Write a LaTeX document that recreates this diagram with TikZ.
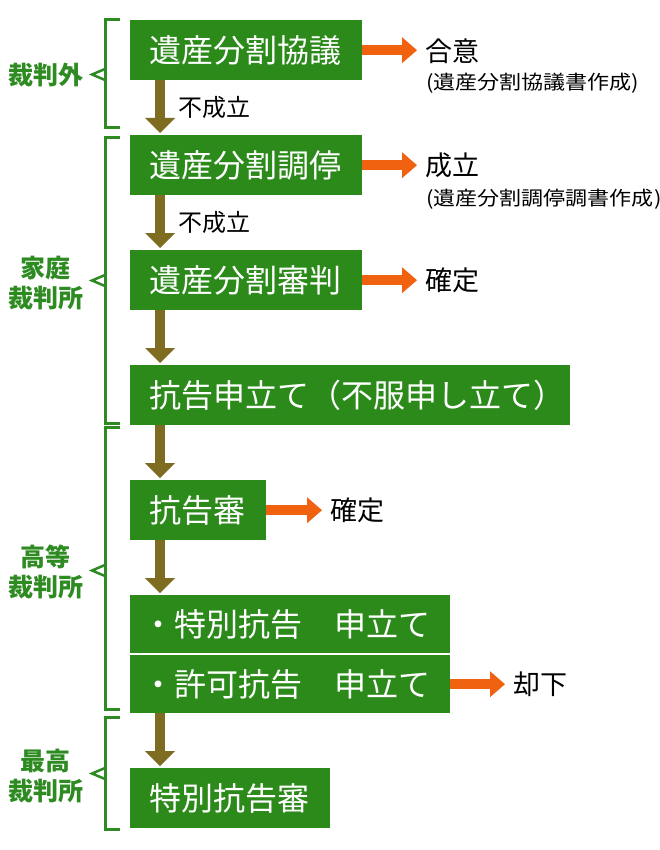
\documentclass[tikz,border=0pt]{standalone}
\usepackage{fontspec}
\usepackage{graphicx}
\usetikzlibrary{arrows.meta,calc}
\newfontfamily\jp{Noto Sans CJK JP}
\definecolor{boxgreen}{HTML}{2B8A1A}
\definecolor{olivec}{HTML}{7E6D20}
\definecolor{orangec}{HTML}{F0620F}
\definecolor{brkgreen}{HTML}{2E8B22}
\tikzset{
  gbox/.style={fill=boxgreen, text=white, font=\jp\fontsize{32}{32}\selectfont,
    minimum height=60pt, inner xsep=19pt, inner ysep=0pt, align=left, anchor=north west},
  varr/.style={draw=olivec, line width=10pt, shorten >=2pt,
    -{Triangle[length=15pt,width=30pt,line width=0pt]}},
  oarr/.style={draw=orangec, line width=10pt, shorten >=8pt,
    -{Triangle[length=15pt,width=26pt,line width=0pt]}},
  btext/.style={font=\jp\fontsize{27}{27}\selectfont, anchor=west, inner sep=0pt},
  ntext/.style={font=\jp\fontsize{24}{24}\selectfont, anchor=west, inner sep=0pt},
  stext/.style={font=\jp\fontsize{19.5}{19.5}\selectfont, anchor=west, inner sep=0pt},
  lbl/.style={font=\jp\bfseries\fontsize{25}{30}\selectfont, text=brkgreen, align=center, inner sep=0pt},
  brk/.style={draw=brkgreen, line width=3pt, line join=miter},
  notch/.style={draw=brkgreen, line width=2.5pt, line join=miter},
}
\begin{document}
\begin{tikzpicture}[x=1pt,y=-1pt]
\useasboundingbox[fill=white] (0,0) rectangle (660,850);

% boxes
\node[gbox, text width=194pt] (b1) at (130,20) {遺産分割協議};
\node[gbox, text width=194pt] (b2) at (130,135) {遺産分割調停};
\node[gbox, text width=194pt] (b3) at (130,250) {遺産分割審判};
\node[gbox, text width=402pt] (b4) at (130,365) {抗告申立て（不服申し立て）};
\node[gbox, text width=98pt] (b5) at (130,480) {抗告審};
\node[gbox, text width=296pt, inner xsep=12pt, minimum height=58pt] (b6) at (130,595) {・特別抗告　申立て};
\node[gbox, text width=296pt, inner xsep=12pt, minimum height=58pt] (b7) at (130,655) {・許可抗告　申立て};
\node[gbox, text width=162pt] (b8) at (130,768) {特別抗告審};

% vertical arrows
\draw[varr] ([xshift=30pt]b1.south west) -- ([xshift=30pt]b2.north west);
\draw[varr] ([xshift=30pt]b2.south west) -- ([xshift=30pt]b3.north west);
\draw[varr] ([xshift=30pt]b3.south west) -- ([xshift=30pt]b4.north west);
\draw[varr] ([xshift=30pt]b4.south west) -- ([xshift=30pt]b5.north west);
\draw[varr] ([xshift=30pt]b5.south west) -- ([xshift=30pt]b6.north west);
\draw[varr] ([xshift=30pt]b7.south west) -- ([xshift=30pt]b8.north west);

\node[ntext] (n1) at (178,107) {不成立};
\node[ntext] (n2) at (178,222) {不成立};

% right results
\node[btext] (r1) at (425,51) {合意};
\node[stext] (s1) at (426,83) {\scalebox{1.13}[1]{(遺産分割協議書作成)}};
\node[btext] (r2) at (425,165) {成立};
\node[stext] (s2) at (426,199) {\scalebox{1.13}[1]{(遺産分割調停調書作成)}};
\node[btext] (r3) at (425,280) {確定};
\node[btext] (r5) at (330,510) {確定};
\node[btext] (r7) at (513,684) {却下};

\draw[oarr] (b1.east) -- (b1.east -| r1.west);
\draw[oarr] (b2.east) -- (b2.east -| r2.west);
\draw[oarr] (b3.east) -- (b3.east -| r3.west);
\draw[oarr] (b5.east) -- (b5.east -| r5.west);
\draw[oarr] (b7.east) -- (b7.east -| r7.west);

% brackets
\draw[brk] (120,20) -- (105,20) -- (105,128) -- (120,128);
\draw[notch] (105,69) -- (92,74.5) -- (105,80);
\draw[brk] (120,138) -- (105,138) -- (105,423) -- (120,423);
\draw[notch] (105,275) -- (92,280.5) -- (105,286);
\draw[brk] (120,427) -- (105,427) -- (105,709) -- (120,709);
\draw[notch] (105,565) -- (92,570.5) -- (105,576);
\draw[brk] (120,717) -- (105,717) -- (105,829) -- (120,829);
\draw[notch] (105,768) -- (92,773.5) -- (105,779);

% court labels
\node[lbl] (l1) at (46,75) {裁判外};
\node[lbl] (l2) at (46,283) {家庭\\裁判所};
\node[lbl] (l3) at (46,572) {高等\\裁判所};
\node[lbl] (l4) at (46,776) {最高\\裁判所};
\end{tikzpicture}
\end{document}
